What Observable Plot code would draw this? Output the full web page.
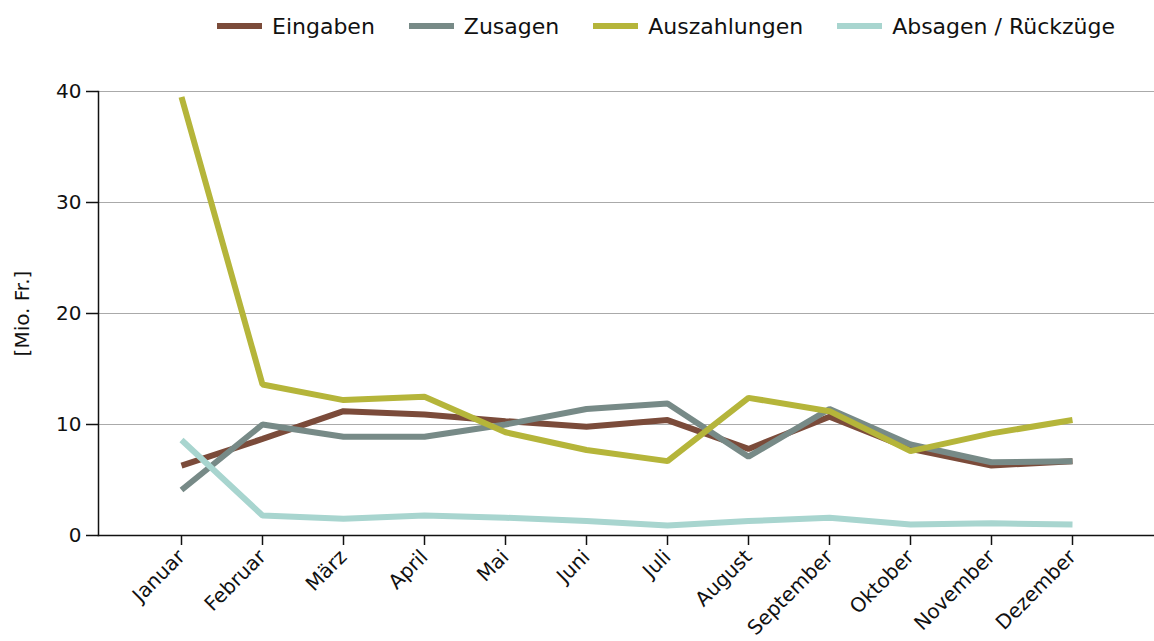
<!DOCTYPE html>
<html>
<head>
<meta charset="utf-8">
<script src="https://cdn.jsdelivr.net/npm/d3@7"></script>
<script src="https://cdn.jsdelivr.net/npm/@observablehq/plot@0.6"></script>
<style>
  html, body { margin: 0; padding: 0; background: #fff; }
  body { width: 1154px; height: 641px; overflow: hidden; font-family: "DejaVu Sans", sans-serif; }
  #legend { height: 52px; display: flex; align-items: center; padding-left: 217px; box-sizing: border-box; font-size: 22px; color: #111; }
  .item { display: flex; align-items: center; margin-right: 34px; }
  .sw { width: 45px; height: 6px; margin-right: 10px; }
</style>
</head>
<body>
<div id="legend"></div>
<div id="chart"></div>
<script>
const months = ["Januar","Februar","März","April","Mai","Juni","Juli","August","September","Oktober","November","Dezember"];
const seriesNames = ["Eingaben","Zusagen","Auszahlungen","Absagen / Rückzüge"];
const seriesColors = ["#7b4b3a","#778a87","#b5b53a","#a8d5cf"];
const eingaben = [6.3, 8.7, 11.2, 10.9, 10.3, 9.8, 10.4, 7.8, 10.7, 7.8, 6.3, 6.7];
const zusagen = [4.1, 10.0, 8.9, 8.9, 10.0, 11.4, 11.9, 7.1, 11.4, 8.2, 6.6, 6.7];
const auszahlungen = [39.5, 13.6, 12.2, 12.5, 9.3, 7.7, 6.7, 12.4, 11.2, 7.6, 9.2, 10.4];
const absagen = [8.6, 1.8, 1.5, 1.8, 1.6, 1.3, 0.9, 1.3, 1.6, 1.0, 1.1, 1.0];
const yTicks = [0, 10, 20, 30, 40];
const yLabel = "[Mio. Fr.]";

const seriesValues = [eingaben, zusagen, auszahlungen, absagen];
const data = [];
seriesNames.forEach((s, i) => months.forEach((m, j) => data.push({series: s, month: m, value: seriesValues[i][j]})));

// legend
const legend = document.getElementById("legend");
seriesNames.forEach((s, i) => {
  const it = document.createElement("div");
  it.className = "item";
  const sw = document.createElement("div");
  sw.className = "sw";
  sw.style.background = seriesColors[i];
  const t = document.createElement("span");
  t.textContent = s;
  it.appendChild(sw); it.appendChild(t);
  legend.appendChild(it);
});

const chart = Plot.plot({
  width: 1154,
  height: 589,
  marginLeft: 98,
  marginRight: 0,
  marginTop: 39,
  marginBottom: 106,
  style: {fontFamily: "DejaVu Sans, sans-serif", fontSize: "20px", color: "#111", background: "#fff"},
  x: {type: "point", domain: months, padding: 1},
  y: {domain: [0, 40]},
  color: {domain: seriesNames, range: seriesColors},
  marks: [
    Plot.gridY(yTicks.filter(d => d > 0), {stroke: "#aaa", strokeOpacity: 1, strokeWidth: 1}),
    Plot.axisY(yTicks, {tickSize: 12, tickPadding: 5, strokeWidth: 1.5, stroke: "#111", fontSize: 20, label: yLabel, labelAnchor: "center", labelOffset: 84, labelArrow: false}),
    Plot.axisX({tickSize: 10, tickRotate: -45, tickPadding: 8, strokeWidth: 1.5, stroke: "#111", fontSize: 20, label: null}),
    Plot.frame({anchor: "left", stroke: "#111", strokeWidth: 1.5}),
    Plot.frame({anchor: "bottom", stroke: "#111", strokeWidth: 1.5}),
    Plot.lineY(data, {x: "month", y: "value", z: "series", stroke: "series", strokeWidth: 6, strokeLinejoin: "miter", strokeLinecap: "butt"})
  ]
});
document.getElementById("chart").appendChild(chart);
</script>
</body>
</html>
